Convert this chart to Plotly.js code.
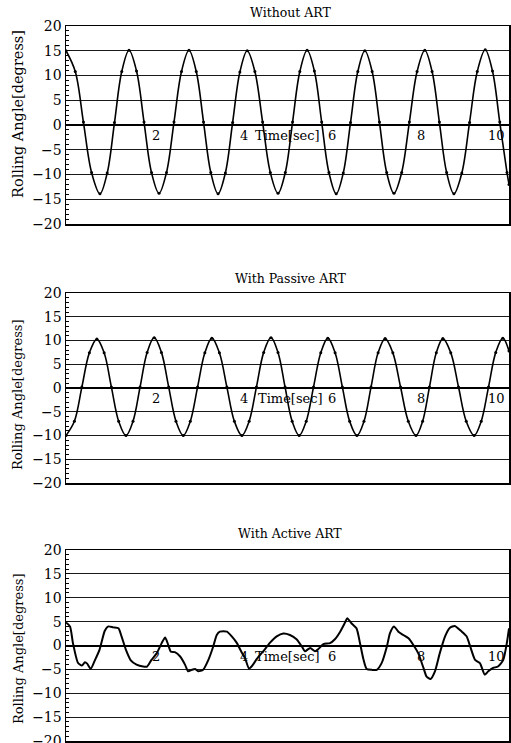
<!DOCTYPE html>
<html><head><meta charset="utf-8">
<script src="https://cdn.plot.ly/plotly-3.0.1.min.js"></script>
<style>html,body{margin:0;padding:0;background:#fff}</style>
</head><body><div id="chart" style="width:511px;height:743px"></div>
<script>
const panelTitles = ["Without ART", "With Passive ART", "With Active ART"];
const yTitle = "Rolling Angle[degress]";
const xTitle = "Time[sec]";
const xTickVals = [2, 4, 6, 8, 10];
const yTickVals = [-20, -15, -10, -5, 0, 5, 10, 15, 20];

// Without ART
const timeNone = [0.00,0.21,0.395,0.58,0.77,0.935,1.10,1.265,1.43,1.60,1.77,1.94,2.11,2.28,2.45,2.62,2.79,2.955,3.12,3.285,3.45,3.615,3.78,3.945,4.11,4.285,4.46,4.635,4.81,4.975,5.14,5.305,5.47,5.635,5.80,5.965,6.13,6.29,6.455,6.62,6.78,6.945,7.11,7.275,7.44,7.615,7.79,7.965,8.14,8.305,8.47,8.635,8.80,8.98,9.155,9.33,9.51,9.675,9.84,10.005,10.05];
const rollNone = [15.0,10.8,0.6,-9.6,-13.9,-9.7,0.5,10.8,15.1,10.9,0.6,-9.6,-13.8,-9.6,0.6,10.8,15.1,10.8,0.6,-9.6,-13.9,-9.7,0.5,10.7,15.0,10.8,0.6,-9.6,-13.8,-9.6,0.6,10.8,15.1,10.9,0.6,-9.6,-13.9,-9.7,0.5,10.8,15.0,10.8,0.6,-9.6,-13.8,-9.6,0.6,10.8,15.1,10.8,0.6,-9.6,-13.9,-9.7,0.5,10.8,15.2,10.9,0.6,-9.6,-12.0];

// With Passive ART
const timePassive = [0.00,0.19,0.36,0.53,0.70,0.865,1.03,1.195,1.36,1.52,1.68,1.84,2.00,2.165,2.33,2.495,2.66,2.82,2.985,3.15,3.31,3.48,3.65,3.82,3.99,4.155,4.32,4.485,4.65,4.81,4.97,5.13,5.29,5.45,5.615,5.78,5.94,6.105,6.27,6.435,6.60,6.76,6.92,7.08,7.24,7.415,7.59,7.765,7.94,8.09,8.245,8.40,8.55,8.73,8.905,9.08,9.26,9.42,9.585,9.75,9.91,10.05];
const rollPassive = [-10.0,-7.0,0.2,7.4,10.3,7.4,0.2,-7.0,-10.0,-7.0,0.2,7.5,10.6,7.5,0.2,-7.0,-10.0,-7.0,0.2,7.4,10.5,7.4,0.2,-7.0,-10.0,-7.0,0.2,7.5,10.6,7.5,0.2,-7.0,-10.0,-7.0,0.2,7.4,10.5,7.4,0.2,-7.0,-10.0,-7.0,0.2,7.4,10.4,7.4,0.2,-7.0,-10.0,-7.0,0.2,7.4,10.4,7.4,0.2,-7.0,-10.0,-7.0,0.2,7.5,10.5,7.8];

// With Active ART
const timeActive = [0.00,0.09,0.16,0.27,0.36,0.43,0.48,0.56,0.66,0.76,0.81,0.88,0.96,1.07,1.19,1.26,1.36,1.47,1.60,1.75,1.84,1.94,2.06,2.17,2.25,2.32,2.38,2.47,2.59,2.70,2.77,2.85,2.93,3.00,3.11,3.23,3.34,3.42,3.49,3.65,3.76,3.87,3.99,4.06,4.15,4.21,4.33,4.51,4.63,4.78,4.93,5.08,5.23,5.35,5.42,5.54,5.65,5.72,5.84,5.99,6.10,6.22,6.33,6.38,6.48,6.59,6.67,6.74,6.82,6.94,7.05,7.16,7.28,7.35,7.44,7.54,7.65,7.77,7.88,7.99,8.11,8.18,8.27,8.37,8.48,8.60,8.71,8.82,8.98,9.09,9.17,9.28,9.39,9.50,9.58,9.69,9.80,9.92,10.00,10.05];
const rollActive = [4.8,4.0,0.4,-3.6,-4.2,-3.5,-3.8,-4.9,-3.0,-0.9,0.8,3.1,4.0,3.8,3.6,1.9,-0.9,-3.1,-4.0,-4.4,-4.4,-3.0,-1.6,0.5,1.7,0.1,-1.3,-1.4,-2.3,-4.0,-5.4,-5.1,-4.9,-5.4,-5.1,-3.0,-0.2,2.2,2.9,2.9,1.9,0.6,-1.5,-2.6,-4.8,-4.4,-2.8,-0.8,0.6,1.9,2.5,2.2,1.3,-0.2,-1.2,-0.5,-1.2,-0.8,0.3,0.5,1.3,2.9,4.8,5.7,4.6,3.6,0.5,-2.6,-4.9,-5.1,-5.1,-3.7,-0.2,2.6,4.0,2.9,2.2,1.5,0.1,-1.6,-4.7,-6.5,-7.0,-5.4,-1.6,1.9,3.7,4.1,2.9,1.9,-0.2,-3.0,-3.7,-6.1,-5.4,-4.7,-4.4,-3.0,0.5,3.6];

const W = 511, H = 743;
const FONT = 'DejaVu Serif';
// panel geometry in pixels (top, bottom)
const panels = [
  {top: 26, bottom: 224, titleY: 13, yTitleY: 114, yTitleSize: 14.5, xTitleLeft: 253},
  {top: 293, bottom: 483, titleY: 278, yTitleY: 395, yTitleSize: 13, xTitleLeft: 256},
  {top: 550, bottom: 741, titleY: 533, yTitleY: 649, yTitleSize: 13, xTitleLeft: 253}
];
const plotLeft = 66, plotRight = 509;
const xRange = [0, 10.05];

const series = [[timeNone, rollNone], [timePassive, rollPassive], [timeActive, rollActive]];
const traces = [];
const layout = {
  width: W, height: H, margin: {l: 0, r: 0, t: 0, b: 0},
  paper_bgcolor: '#fff', plot_bgcolor: '#fff', showlegend: false,
  font: {family: FONT, color: '#000'},
  annotations: []
};

panels.forEach((p, i) => {
  const sfx = i === 0 ? '' : String(i + 1);
  const xa = 'x' + sfx, ya = 'y' + sfx;
  const isActive = i === 2;
  traces.push({
    x: series[i][0], y: series[i][1], xaxis: xa, yaxis: ya,
    type: 'scatter', mode: isActive ? 'lines' : 'lines+markers',
    line: {color: '#000', width: isActive ? 2 : 1.6, shape: 'spline', smoothing: isActive ? 0.6 : 1},
    marker: {color: '#000', size: 3},
    hoverinfo: 'skip', cliponaxis: true
  });
  layout['xaxis' + sfx] = {
    domain: [plotLeft / W, plotRight / W], range: xRange, anchor: ya,
    showticklabels: false, ticks: '', showgrid: false, zeroline: false,
    showline: true, mirror: true, linecolor: '#000', linewidth: 1.5, fixedrange: true
  };
  layout['yaxis' + sfx] = {
    domain: [(H - p.bottom) / H, (H - p.top) / H], range: [-20, 20], anchor: xa,
    tickmode: 'array', tickvals: yTickVals, ticks: 'inside', ticklen: 4, tickcolor: '#000',
    tickfont: {family: FONT, size: 14, color: '#000'}, ticklabeloverflow: 'allow',
    showgrid: true, gridcolor: '#1a1a1a', gridwidth: 1,
    zeroline: true, zerolinecolor: '#000', zerolinewidth: 2,
    showline: true, mirror: true, linecolor: '#000', linewidth: 1.5,
    minor: {tickmode: 'linear', tick0: 0, dtick: 1, ticks: 'inside', ticklen: 2.5, tickcolor: '#000', showgrid: false},
    fixedrange: true
  };
  // panel title
  layout.annotations.push({
    xref: 'paper', yref: 'paper', x: 290 / W, y: (H - p.titleY) / H,
    text: panelTitles[i], showarrow: false, xanchor: 'center', yanchor: 'middle',
    font: {family: FONT, size: 12.5, color: '#000'}
  });
  // y title
  layout.annotations.push({
    xref: 'paper', yref: 'paper', x: 18 / W, y: (H - p.yTitleY) / H,
    text: yTitle, textangle: -90, showarrow: false, xanchor: 'center', yanchor: 'middle',
    font: {family: FONT, size: p.yTitleSize, color: '#000'}
  });
  // x title inside plot under zero line
  layout.annotations.push({
    xref: xa, yref: ya, x: (p.xTitleLeft - plotLeft) / (plotRight - plotLeft) * (xRange[1] - xRange[0]), y: 0,
    text: xTitle, showarrow: false, xanchor: 'left', yanchor: 'top', yshift: -1,
    font: {family: FONT, size: 13, color: '#000'}
  });
  // x tick labels along the zero line
  xTickVals.forEach((v, k) => {
    const last = k === xTickVals.length - 1;
    layout.annotations.push({
      xref: xa, yref: ya, x: v, y: 0, text: String(v), showarrow: false,
      xanchor: last ? 'right' : 'center', xshift: last ? 0 : 2, yanchor: 'top', yshift: -1,
      font: {family: FONT, size: 13, color: '#000'}
    });
  });
});

Plotly.newPlot('chart', traces, layout, {displayModeBar: false, staticPlot: true});
</script>
</body></html>
